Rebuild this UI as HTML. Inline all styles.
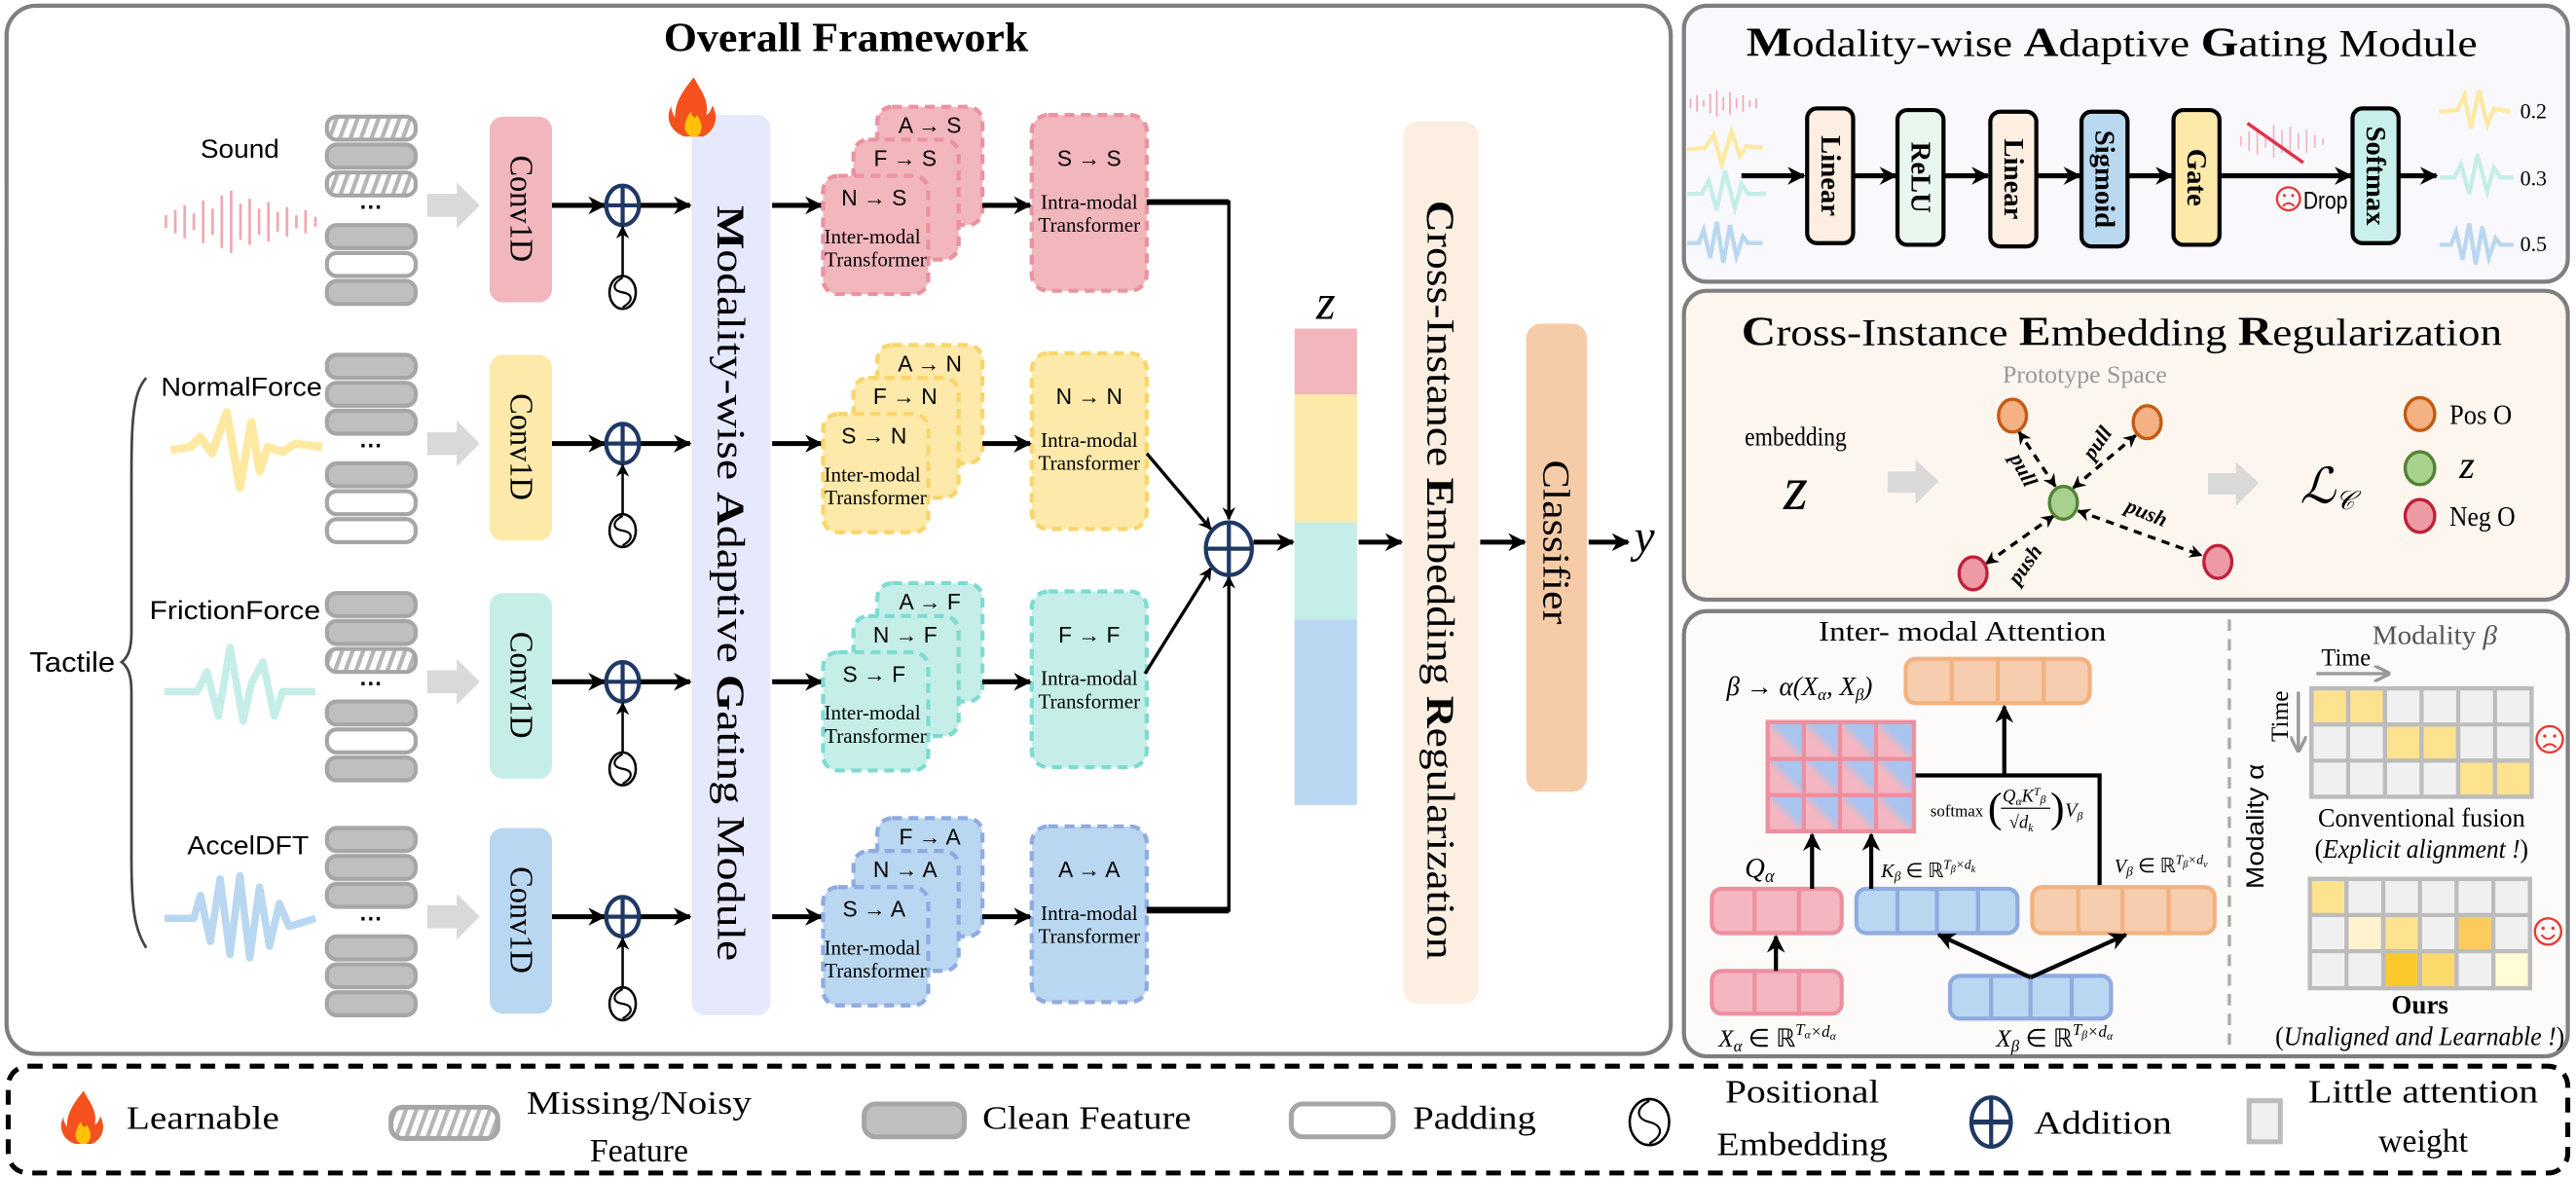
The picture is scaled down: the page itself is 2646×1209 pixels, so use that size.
<!DOCTYPE html>
<html><head><meta charset="utf-8"><style>
html,body{margin:0;padding:0;background:#fff}
svg{display:block}
.se{font-family:"Liberation Serif",serif}
.sa{font-family:"Liberation Sans",sans-serif}
</style></head><body>
<svg width="2646" height="1209" viewBox="0 0 1568 716.44" preserveAspectRatio="none" xmlns="http://www.w3.org/2000/svg">
<defs>
<marker id="a" viewBox="0 0 10 10" refX="9" refY="5" markerWidth="11" markerHeight="11" markerUnits="userSpaceOnUse" orient="auto-start-reverse"><path d="M0,0 L10,5 L0,10 L3,5z" fill="#000"/></marker>
<marker id="as" viewBox="0 0 10 10" refX="9" refY="5" markerWidth="8" markerHeight="8" markerUnits="userSpaceOnUse" orient="auto-start-reverse"><path d="M0,0 L10,5 L0,10 L3,5z" fill="#000"/></marker>
<marker id="ag" viewBox="0 0 10 10" refX="9" refY="5" markerWidth="10" markerHeight="10" markerUnits="userSpaceOnUse" orient="auto"><path d="M0,0 L10,5 L0,10" fill="none" stroke="#999" stroke-width="2"/></marker>
<pattern id="h" width="6" height="6" patternUnits="userSpaceOnUse" patternTransform="rotate(20)"><rect width="6" height="6" fill="#fff"/><rect width="2.5" height="6" fill="#b5b5b5"/></pattern>
<linearGradient id="g" x1="0" y1="1" x2="1" y2="0"><stop offset="0.4" stop-color="#f4b6c0"/><stop offset="0.6" stop-color="#a9c4ee"/></linearGradient>
<g id="pe"><ellipse cx="0" cy="0" rx="8" ry="10" fill="#fff" stroke="#000" stroke-width="1.5"/><path d="M0,-9 C-7,-5 -6,-1 0,0 C6,1 7,5 0,9" fill="none" stroke="#000" stroke-width="1.3"/></g>
<g id="plus"><ellipse cx="0" cy="0" rx="10" ry="12" fill="#fff" stroke="#1f3864" stroke-width="2.5"/><line x1="-10" y1="0" x2="10" y2="0" stroke="#1f3864" stroke-width="2.5"/><line x1="0" y1="-12" x2="0" y2="12" stroke="#1f3864" stroke-width="2.5"/></g>
<g id="fl"><path d="M14,0 C6,10 2,16 2,26 C0,22 -1,20 0,18 C-4,24 -3,34 8,38 L20,38 C28,34 30,26 26,18 C25,22 23,24 22,24 C24,14 18,8 14,0z" fill="#f4511e"/><path d="M12,38 C6,34 8,28 12,22 C13,26 16,27 16,24 C20,30 20,35 16,38z" fill="#ffc107"/></g>
</defs>

<!-- Main panel -->
<rect x="4" y="3.5" width="1013" height="638" rx="18" fill="#fff" stroke="#7f7f7f" stroke-width="2.5"/>
<text class="se" x="404" y="31" font-size="25" font-weight="bold" textLength="222" lengthAdjust="spacingAndGlyphs">Overall Framework</text>

<!-- MAG bar -->
<rect x="421" y="70" width="48" height="548" rx="8" fill="#e6e8fb"/>
<use href="#fl" transform="translate(409,47) scale(0.95)"/>
<text class="se" transform="translate(445,355) rotate(90)" text-anchor="middle" dominant-baseline="central" font-size="24" textLength="460" lengthAdjust="spacingAndGlyphs"><tspan font-weight="bold">M</tspan>odality-wise  <tspan font-weight="bold">A</tspan>daptive  <tspan font-weight="bold">G</tspan>ating  Module</text>

<!-- Tactile brace -->
<path d="M89,230 C80,240 80,260 80,300 L80,385 C80,395 78,400 74,403 C78,406 80,411 80,421 L80,520 C80,555 82,565 89,577" fill="none" stroke="#444" stroke-width="1.6"/>
<text class="sa" x="18" y="409" font-size="17" textLength="52" lengthAdjust="spacingAndGlyphs">Tactile</text>

<!-- ROW 1 Sound T=71 -->
<g>
<text class="sa" x="122" y="96" font-size="16" textLength="48" lengthAdjust="spacingAndGlyphs">Sound</text>
<g stroke="#f2a7b1" stroke-width="1.6">
<line x1="101" y1="131" x2="101" y2="139"/><line x1="106.7" y1="128" x2="106.7" y2="142"/><line x1="112.4" y1="125" x2="112.4" y2="145"/><line x1="118" y1="130" x2="118" y2="140"/><line x1="123.7" y1="122" x2="123.7" y2="148"/><line x1="129.4" y1="127" x2="129.4" y2="143"/><line x1="135" y1="119" x2="135" y2="151"/><line x1="140.7" y1="116" x2="140.7" y2="154"/><line x1="146.4" y1="124" x2="146.4" y2="146"/><line x1="152" y1="121" x2="152" y2="149"/><line x1="157.7" y1="127" x2="157.7" y2="143"/><line x1="163.4" y1="123" x2="163.4" y2="147"/><line x1="169" y1="129" x2="169" y2="141"/><line x1="174.7" y1="126" x2="174.7" y2="144"/><line x1="180.4" y1="131" x2="180.4" y2="139"/><line x1="186" y1="128" x2="186" y2="142"/><line x1="192" y1="132" x2="192" y2="138"/>
</g>
<g stroke="#a6a6a6" stroke-width="2.5">
<rect x="199" y="71" width="54" height="14" rx="6" fill="url(#h)"/>
<rect x="199" y="88" width="54" height="14" rx="6" fill="#bfbfbf"/>
<rect x="199" y="105" width="54" height="14" rx="6" fill="url(#h)"/>
<rect x="199" y="137" width="54" height="14" rx="6" fill="#bfbfbf"/>
<rect x="199" y="154" width="54" height="14" rx="6" fill="#fff"/>
<rect x="199" y="171" width="54" height="14" rx="6" fill="#bfbfbf"/>
</g>
<text class="sa" x="226" y="131" font-size="14" text-anchor="middle" font-weight="bold">···</text>
<polygon points="260,118 278,118 278,111 292,125 278,139 278,132 260,132" fill="#d9d9d9"/>
<rect x="298" y="71" width="38" height="113" rx="8" fill="#f2b6bd"/>
<text class="se" transform="translate(317,127) rotate(90)" text-anchor="middle" dominant-baseline="central" font-size="20" textLength="65" lengthAdjust="spacingAndGlyphs">Conv1D</text>
<line x1="336" y1="125" x2="368" y2="125" stroke="#000" stroke-width="3" marker-end="url(#a)"/>
<use href="#plus" x="379" y="125"/>
<line x1="390" y1="125" x2="420" y2="125" stroke="#000" stroke-width="3" marker-end="url(#a)"/>
<line x1="379" y1="168" x2="379" y2="138" stroke="#000" stroke-width="1.5" marker-end="url(#as)"/>
<use href="#pe" x="379" y="178"/>
<line x1="470" y1="125" x2="500" y2="125" stroke="#000" stroke-width="3" marker-end="url(#a)"/>
<g fill="#f2b6bd" stroke="#ea93a0" stroke-width="2.5" stroke-dasharray="6,4">
<rect x="534" y="65" width="64" height="72" rx="9"/>
<rect x="519.5" y="85" width="64" height="73" rx="9"/>
<rect x="501" y="107" width="64" height="72" rx="9"/>
<rect x="628" y="70" width="70" height="107" rx="10"/>
</g>
<g class="sa" font-size="13.5" text-anchor="middle"><text x="566" y="81">A → S</text><text x="551" y="101">F → S</text><text x="532" y="125">N → S</text><text x="663" y="101">S → S</text></g>
<g class="se" font-size="12.5" text-anchor="middle"><text x="531" y="148">Inter-modal</text><text x="533" y="162">Transformer</text><text x="663" y="127">Intra-modal</text><text x="663" y="141">Transformer</text></g>
<line x1="598" y1="125" x2="627" y2="125" stroke="#000" stroke-width="3" marker-end="url(#a)"/>
</g>

<!-- ROW 2 Normal T=216 -->
<g>
<text class="sa" x="98" y="241" font-size="16" textLength="98" lengthAdjust="spacingAndGlyphs">NormalForce</text>
<path d="M104,274 L116,272 L122,266 L129,276 L138,251 L146,297 L153,257 L158,287 L163,272 L172,275 L180,270 L196,272" fill="none" stroke="#fde9a0" stroke-width="5" stroke-linejoin="round"/>
<g stroke="#a6a6a6" stroke-width="2.5">
<rect x="199" y="216" width="54" height="14" rx="6" fill="#bfbfbf"/>
<rect x="199" y="233" width="54" height="14" rx="6" fill="#bfbfbf"/>
<rect x="199" y="250" width="54" height="14" rx="6" fill="#bfbfbf"/>
<rect x="199" y="282" width="54" height="14" rx="6" fill="#bfbfbf"/>
<rect x="199" y="299" width="54" height="14" rx="6" fill="#fff"/>
<rect x="199" y="316" width="54" height="14" rx="6" fill="#fff"/>
</g>
<text class="sa" x="226" y="276" font-size="14" text-anchor="middle" font-weight="bold">···</text>
<polygon points="260,263 278,263 278,256 292,270 278,284 278,277 260,277" fill="#d9d9d9"/>
<rect x="298" y="216" width="38" height="113" rx="8" fill="#fde9a9"/>
<text class="se" transform="translate(317,272) rotate(90)" text-anchor="middle" dominant-baseline="central" font-size="20" textLength="65" lengthAdjust="spacingAndGlyphs">Conv1D</text>
<line x1="336" y1="270" x2="368" y2="270" stroke="#000" stroke-width="3" marker-end="url(#a)"/>
<use href="#plus" x="379" y="270"/>
<line x1="390" y1="270" x2="420" y2="270" stroke="#000" stroke-width="3" marker-end="url(#a)"/>
<line x1="379" y1="313" x2="379" y2="283" stroke="#000" stroke-width="1.5" marker-end="url(#as)"/>
<use href="#pe" x="379" y="323"/>
<line x1="470" y1="270" x2="500" y2="270" stroke="#000" stroke-width="3" marker-end="url(#a)"/>
<g fill="#fde9a9" stroke="#f9d56a" stroke-width="2.5" stroke-dasharray="6,4">
<rect x="534" y="210" width="64" height="72" rx="9"/>
<rect x="519.5" y="230" width="64" height="73" rx="9"/>
<rect x="501" y="252" width="64" height="72" rx="9"/>
<rect x="628" y="215" width="70" height="107" rx="10"/>
</g>
<g class="sa" font-size="13.5" text-anchor="middle"><text x="566" y="226">A → N</text><text x="551" y="246">F → N</text><text x="532" y="270">S → N</text><text x="663" y="246">N → N</text></g>
<g class="se" font-size="12.5" text-anchor="middle"><text x="531" y="293">Inter-modal</text><text x="533" y="307">Transformer</text><text x="663" y="272">Intra-modal</text><text x="663" y="286">Transformer</text></g>
<line x1="598" y1="270" x2="627" y2="270" stroke="#000" stroke-width="3" marker-end="url(#a)"/>
</g>

<!-- ROW 3 Friction T=361 -->
<g>
<text class="sa" x="91" y="377" font-size="16" textLength="104" lengthAdjust="spacingAndGlyphs">FrictionForce</text>
<path d="M100,421 L120,421 L126,409 L133,436 L140,394 L148,439 L153,416 L160,403 L167,436 L172,421 L192,421" fill="none" stroke="#c5eee9" stroke-width="4.5" stroke-linejoin="round"/>
<g stroke="#a6a6a6" stroke-width="2.5">
<rect x="199" y="361" width="54" height="14" rx="6" fill="#bfbfbf"/>
<rect x="199" y="378" width="54" height="14" rx="6" fill="#bfbfbf"/>
<rect x="199" y="395" width="54" height="14" rx="6" fill="url(#h)"/>
<rect x="199" y="427" width="54" height="14" rx="6" fill="#bfbfbf"/>
<rect x="199" y="444" width="54" height="14" rx="6" fill="#fff"/>
<rect x="199" y="461" width="54" height="14" rx="6" fill="#bfbfbf"/>
</g>
<text class="sa" x="226" y="421" font-size="14" text-anchor="middle" font-weight="bold">···</text>
<polygon points="260,408 278,408 278,401 292,415 278,429 278,422 260,422" fill="#d9d9d9"/>
<rect x="298" y="361" width="38" height="113" rx="8" fill="#c5eee9"/>
<text class="se" transform="translate(317,417) rotate(90)" text-anchor="middle" dominant-baseline="central" font-size="20" textLength="65" lengthAdjust="spacingAndGlyphs">Conv1D</text>
<line x1="336" y1="415" x2="368" y2="415" stroke="#000" stroke-width="3" marker-end="url(#a)"/>
<use href="#plus" x="379" y="415"/>
<line x1="390" y1="415" x2="420" y2="415" stroke="#000" stroke-width="3" marker-end="url(#a)"/>
<line x1="379" y1="458" x2="379" y2="428" stroke="#000" stroke-width="1.5" marker-end="url(#as)"/>
<use href="#pe" x="379" y="468"/>
<line x1="470" y1="415" x2="500" y2="415" stroke="#000" stroke-width="3" marker-end="url(#a)"/>
<g fill="#c5eee9" stroke="#7ddbd0" stroke-width="2.5" stroke-dasharray="6,4">
<rect x="534" y="355" width="64" height="72" rx="9"/>
<rect x="519.5" y="375" width="64" height="73" rx="9"/>
<rect x="501" y="397" width="64" height="72" rx="9"/>
<rect x="628" y="360" width="70" height="107" rx="10"/>
</g>
<g class="sa" font-size="13.5" text-anchor="middle"><text x="566" y="371">A → F</text><text x="551" y="391">N → F</text><text x="532" y="415">S → F</text><text x="663" y="391">F → F</text></g>
<g class="se" font-size="12.5" text-anchor="middle"><text x="531" y="438">Inter-modal</text><text x="533" y="452">Transformer</text><text x="663" y="417">Intra-modal</text><text x="663" y="431">Transformer</text></g>
<line x1="598" y1="415" x2="627" y2="415" stroke="#000" stroke-width="3" marker-end="url(#a)"/>
</g>

<!-- ROW 4 Accel T=504 -->
<g>
<text class="sa" x="114" y="520" font-size="16" textLength="74" lengthAdjust="spacingAndGlyphs">AccelDFT</text>
<path d="M100,559 L118,559 L122,545 L128,573 L134,535 L140,581 L146,533 L152,583 L158,540 L164,576 L170,550 L176,564 L192,559" fill="none" stroke="#b9d7f0" stroke-width="4.5" stroke-linejoin="round"/>
<g stroke="#a6a6a6" stroke-width="2.5" fill="#bfbfbf">
<rect x="199" y="504" width="54" height="14" rx="6"/>
<rect x="199" y="521" width="54" height="14" rx="6"/>
<rect x="199" y="538" width="54" height="14" rx="6"/>
<rect x="199" y="570" width="54" height="14" rx="6"/>
<rect x="199" y="587" width="54" height="14" rx="6"/>
<rect x="199" y="604" width="54" height="14" rx="6"/>
</g>
<text class="sa" x="226" y="564" font-size="14" text-anchor="middle" font-weight="bold">···</text>
<polygon points="260,551 278,551 278,544 292,558 278,572 278,565 260,565" fill="#d9d9d9"/>
<rect x="298" y="504" width="38" height="113" rx="8" fill="#b9d7f0"/>
<text class="se" transform="translate(317,560) rotate(90)" text-anchor="middle" dominant-baseline="central" font-size="20" textLength="65" lengthAdjust="spacingAndGlyphs">Conv1D</text>
<line x1="336" y1="558" x2="368" y2="558" stroke="#000" stroke-width="3" marker-end="url(#a)"/>
<use href="#plus" x="379" y="558"/>
<line x1="390" y1="558" x2="420" y2="558" stroke="#000" stroke-width="3" marker-end="url(#a)"/>
<line x1="379" y1="601" x2="379" y2="571" stroke="#000" stroke-width="1.5" marker-end="url(#as)"/>
<use href="#pe" x="379" y="611"/>
<line x1="470" y1="558" x2="500" y2="558" stroke="#000" stroke-width="3" marker-end="url(#a)"/>
<g fill="#b9d7f0" stroke="#8fabe0" stroke-width="2.5" stroke-dasharray="6,4">
<rect x="534" y="498" width="64" height="72" rx="9"/>
<rect x="519.5" y="518" width="64" height="73" rx="9"/>
<rect x="501" y="540" width="64" height="72" rx="9"/>
<rect x="628" y="503" width="70" height="107" rx="10"/>
</g>
<g class="sa" font-size="13.5" text-anchor="middle"><text x="566" y="514">F → A</text><text x="551" y="534">N → A</text><text x="532" y="558">S → A</text><text x="663" y="534">A → A</text></g>
<g class="se" font-size="12.5" text-anchor="middle"><text x="531" y="581">Inter-modal</text><text x="533" y="595">Transformer</text><text x="663" y="560">Intra-modal</text><text x="663" y="574">Transformer</text></g>
<line x1="598" y1="558" x2="627" y2="558" stroke="#000" stroke-width="3" marker-end="url(#a)"/>
</g>

<!-- Convergence -->
<polyline points="698,123 748,123 748,316" fill="none" stroke="#000" stroke-width="2" marker-end="url(#as)"/>
<polyline points="698,554 748,554 748,351" fill="none" stroke="#000" stroke-width="2" marker-end="url(#as)"/>
<polyline points="698,554 748,554" fill="none" stroke="#000" stroke-width="4"/>
<polyline points="698,123 748,123" fill="none" stroke="#000" stroke-width="3.5"/>
<line x1="698" y1="276" x2="737" y2="322" stroke="#000" stroke-width="2" marker-end="url(#as)"/>
<line x1="697" y1="410" x2="737" y2="346" stroke="#000" stroke-width="2" marker-end="url(#as)"/>
<ellipse cx="748" cy="334" rx="14" ry="16" fill="#fff" stroke="#1f3864" stroke-width="2.5"/>
<line x1="734" y1="334" x2="762" y2="334" stroke="#1f3864" stroke-width="2.5"/>
<line x1="748" y1="318" x2="748" y2="350" stroke="#1f3864" stroke-width="2.5"/>
<line x1="763" y1="330" x2="787" y2="330" stroke="#000" stroke-width="3" marker-end="url(#a)"/>

<!-- z bar -->
<text class="se" x="807" y="194" font-size="30" font-style="italic" text-anchor="middle">z</text>
<rect x="788" y="200" width="38" height="40" fill="#f2b6bd"/>
<rect x="788" y="240" width="38" height="78" fill="#fde9a9"/>
<rect x="788" y="318" width="38" height="59" fill="#c5eee9"/>
<rect x="788" y="377" width="38" height="113" fill="#b9d7f0"/>
<line x1="827" y1="330" x2="853" y2="330" stroke="#000" stroke-width="3" marker-end="url(#a)"/>
<rect x="854" y="74" width="46" height="537" rx="9" fill="#fcefe1"/>
<text class="se" transform="translate(877,353) rotate(90)" text-anchor="middle" dominant-baseline="central" font-size="24" textLength="462" lengthAdjust="spacingAndGlyphs"><tspan font-weight="bold">C</tspan>ross-Instance  <tspan font-weight="bold">E</tspan>mbedding  <tspan font-weight="bold">R</tspan>egularization</text>
<line x1="901" y1="330" x2="928" y2="330" stroke="#000" stroke-width="3" marker-end="url(#a)"/>
<rect x="929" y="197" width="37" height="285" rx="9" fill="#f6cba8"/>
<text class="se" transform="translate(947,330) rotate(90)" text-anchor="middle" dominant-baseline="central" font-size="23" textLength="100" lengthAdjust="spacingAndGlyphs">Classifier</text>
<line x1="967" y1="330" x2="991" y2="330" stroke="#000" stroke-width="3" marker-end="url(#a)"/>
<text class="se" x="1001" y="336" font-size="28" font-style="italic" text-anchor="middle">y</text>

<!-- MAG panel -->
<rect x="1025" y="3.5" width="538" height="168" rx="14" fill="#f8f8fd" stroke="#7f7f7f" stroke-width="2.5"/>
<text class="se" x="1063" y="34" font-size="23" textLength="445" lengthAdjust="spacingAndGlyphs"><tspan font-weight="bold" font-size="25">M</tspan>odality-wise  <tspan font-weight="bold" font-size="25">A</tspan>daptive  <tspan font-weight="bold" font-size="25">G</tspan>ating  Module</text>
<g stroke="#f2a7b1" stroke-width="1"><line x1="1029" y1="60" x2="1029" y2="66"/><line x1="1033" y1="58" x2="1033" y2="68"/><line x1="1037" y1="61" x2="1037" y2="65"/><line x1="1041" y1="57" x2="1041" y2="69"/><line x1="1045" y1="55" x2="1045" y2="71"/><line x1="1049" y1="59" x2="1049" y2="67"/><line x1="1053" y1="56" x2="1053" y2="70"/><line x1="1057" y1="60" x2="1057" y2="66"/><line x1="1061" y1="58" x2="1061" y2="68"/><line x1="1065" y1="61" x2="1065" y2="65"/><line x1="1069" y1="60" x2="1069" y2="66"/></g>
<path d="M1027,91 L1038,90 L1043,82 L1048,100 L1054,80 L1059,95 L1063,89 L1073,90" fill="none" stroke="#fde9a0" stroke-width="2.5"/>
<path d="M1027,118 L1036,118 L1040,110 L1045,128 L1050,104 L1056,127 L1060,112 L1064,118 L1075,118" fill="none" stroke="#c5eee9" stroke-width="2.5"/>
<path d="M1027,148 L1034,148 L1037,140 L1041,157 L1045,135 L1049,160 L1053,137 L1057,156 L1061,144 L1064,148 L1073,148" fill="none" stroke="#b9d7f0" stroke-width="2.5"/>
<line x1="1060" y1="107" x2="1098" y2="107" stroke="#000" stroke-width="3" marker-end="url(#a)"/>
<g stroke="#000" stroke-width="2.5">
<rect x="1100" y="66" width="28" height="82" rx="6" fill="#fcefe1"/>
<rect x="1155" y="67" width="28" height="82" rx="6" fill="#eaf7ee"/>
<rect x="1211.5" y="68" width="28" height="82" rx="6" fill="#fcefe1"/>
<rect x="1267" y="68" width="28" height="82" rx="6" fill="#b9d9f0"/>
<rect x="1323" y="67" width="28" height="82" rx="6" fill="#fde9a9"/>
<rect x="1432" y="66" width="28" height="82" rx="6" fill="#c9f0ea"/>
</g>
<g class="se" font-size="17" font-weight="bold">
<text transform="translate(1114,107) rotate(90)" text-anchor="middle" dominant-baseline="central">Linear</text>
<text transform="translate(1169,108) rotate(90)" text-anchor="middle" dominant-baseline="central">ReLU</text>
<text transform="translate(1225.5,109) rotate(90)" text-anchor="middle" dominant-baseline="central">Linear</text>
<text transform="translate(1281,109) rotate(90)" text-anchor="middle" dominant-baseline="central">Sigmoid</text>
<text transform="translate(1337,108) rotate(90)" text-anchor="middle" dominant-baseline="central">Gate</text>
<text transform="translate(1446,107) rotate(90)" text-anchor="middle" dominant-baseline="central">Softmax</text>
</g>
<g stroke="#000" stroke-width="3">
<line x1="1128" y1="107" x2="1154" y2="107" marker-end="url(#a)"/>
<line x1="1183" y1="107" x2="1210" y2="107" marker-end="url(#a)"/>
<line x1="1239.5" y1="107" x2="1266" y2="107" marker-end="url(#a)"/>
<line x1="1295" y1="107" x2="1322" y2="107" marker-end="url(#a)"/>
<line x1="1351" y1="107" x2="1431" y2="107" marker-end="url(#a)"/>
<line x1="1460" y1="107" x2="1483" y2="107" marker-end="url(#a)"/>
</g>
<g stroke="#f4b6c0" stroke-width="1"><line x1="1364" y1="83" x2="1364" y2="89"/><line x1="1369" y1="80" x2="1369" y2="92"/><line x1="1374" y1="78" x2="1374" y2="94"/><line x1="1379" y1="82" x2="1379" y2="90"/><line x1="1384" y1="76" x2="1384" y2="96"/><line x1="1389" y1="79" x2="1389" y2="93"/><line x1="1394" y1="77" x2="1394" y2="95"/><line x1="1399" y1="81" x2="1399" y2="91"/><line x1="1404" y1="79" x2="1404" y2="93"/><line x1="1409" y1="82" x2="1409" y2="90"/><line x1="1414" y1="84" x2="1414" y2="88"/></g>
<line x1="1368" y1="75" x2="1402" y2="99" stroke="#e0314b" stroke-width="2"/>
<circle cx="1393" cy="121" r="7" fill="none" stroke="#e53935" stroke-width="1.4"/>
<circle cx="1390.5" cy="119" r="0.9" fill="#e53935"/><circle cx="1395.5" cy="119" r="0.9" fill="#e53935"/>
<path d="M1389.5,125.5 Q1393,122 1396.5,125.5" fill="none" stroke="#e53935" stroke-width="1.2"/>
<text class="sa" x="1402" y="127" font-size="15" textLength="27" lengthAdjust="spacingAndGlyphs">Drop</text>
<path d="M1485,68 L1496,67 L1500,58 L1504,78 L1509,55 L1514,76 L1518,66 L1528,68" fill="none" stroke="#fde9a0" stroke-width="2.5"/>
<path d="M1485,108 L1494,108 L1498,100 L1503,118 L1508,94 L1514,117 L1518,102 L1522,108 L1530,108" fill="none" stroke="#c5eee9" stroke-width="2.5"/>
<path d="M1485,149 L1492,149 L1495,141 L1499,158 L1503,136 L1507,161 L1511,138 L1515,157 L1519,145 L1522,149 L1530,149" fill="none" stroke="#b9d7f0" stroke-width="2.5"/>
<g class="se" font-size="13"><text x="1534" y="72">0.2</text><text x="1534" y="113">0.3</text><text x="1534" y="153">0.5</text></g>

<!-- CIER panel -->
<rect x="1025" y="177" width="538" height="188" rx="14" fill="#fdf6ef" stroke="#7f7f7f" stroke-width="2.5"/>
<text class="se" x="1060" y="210" font-size="23" textLength="463" lengthAdjust="spacingAndGlyphs"><tspan font-weight="bold" font-size="25">C</tspan>ross-Instance  <tspan font-weight="bold" font-size="25">E</tspan>mbedding  <tspan font-weight="bold" font-size="25">R</tspan>egularization</text>
<text class="se" x="1269" y="233" font-size="15" fill="#999" text-anchor="middle" textLength="100" lengthAdjust="spacingAndGlyphs">Prototype Space</text>
<text class="se" x="1093" y="271" font-size="16" text-anchor="middle" textLength="62" lengthAdjust="spacingAndGlyphs">embedding</text>
<text class="se" x="1093" y="310" font-size="38" font-style="italic" text-anchor="middle">z</text>
<polygon points="1149,287 1166,287 1166,280 1180,293 1166,307 1166,300 1149,300" fill="#d9d9d9"/>
<polygon points="1344,288 1361,288 1361,281 1375,294 1361,308 1361,301 1344,301" fill="#d9d9d9"/>
<text class="se" x="1400" y="306" font-size="30" font-style="italic">ℒ<tspan font-size="16" dy="4">𝒞</tspan></text>
<g stroke="#000" stroke-width="2" stroke-dasharray="5,4" marker-start="url(#as)" marker-end="url(#as)">
<line x1="1251" y1="296" x2="1229" y2="263"/>
<line x1="1262" y1="297" x2="1300" y2="265"/>
<line x1="1250" y1="314" x2="1209" y2="343"/>
<line x1="1265" y1="311" x2="1340" y2="338"/>
</g>
<g class="se" font-size="13" font-weight="bold" font-style="italic">
<text transform="translate(1228,288) rotate(62)" text-anchor="middle">pull</text>
<text transform="translate(1280,272) rotate(-55)" text-anchor="middle">pull</text>
<text transform="translate(1305,316) rotate(22)" text-anchor="middle">push</text>
<text transform="translate(1236,346) rotate(-55)" text-anchor="middle">push</text>
</g>
<ellipse cx="1225" cy="253" rx="8.5" ry="10" fill="#f4b183" stroke="#c55a11" stroke-width="2"/>
<ellipse cx="1307" cy="257" rx="8.5" ry="10" fill="#f4b183" stroke="#c55a11" stroke-width="2"/>
<ellipse cx="1256" cy="306" rx="8.5" ry="10" fill="#a9d18e" stroke="#548235" stroke-width="2"/>
<ellipse cx="1201" cy="349" rx="8.5" ry="10" fill="#ee9aa5" stroke="#c0203a" stroke-width="2"/>
<ellipse cx="1350" cy="342" rx="8.5" ry="10" fill="#ee9aa5" stroke="#c0203a" stroke-width="2"/>
<ellipse cx="1473" cy="252" rx="9" ry="10" fill="#f4b183" stroke="#c55a11" stroke-width="2"/>
<ellipse cx="1473" cy="285" rx="9" ry="10" fill="#a9d18e" stroke="#548235" stroke-width="2"/>
<ellipse cx="1473" cy="314" rx="9" ry="10" fill="#ee9aa5" stroke="#c0203a" stroke-width="2"/>
<g class="se" font-size="17"><text x="1491" y="258" textLength="38" lengthAdjust="spacingAndGlyphs">Pos O</text><text x="1497" y="291" font-size="24" font-style="italic">z</text><text x="1491" y="320" textLength="40" lengthAdjust="spacingAndGlyphs">Neg O</text></g>

<!-- Attention panel -->
<rect x="1025" y="372" width="538" height="271" rx="14" fill="#fcfbf9" stroke="#7f7f7f" stroke-width="2.5"/>
<line x1="1357" y1="377" x2="1357" y2="640" stroke="#aaa" stroke-width="2" stroke-dasharray="7,5"/>
<text class="se" x="1107" y="390" font-size="17" textLength="175" lengthAdjust="spacingAndGlyphs">Inter- modal Attention</text>
<g fill="#f7cdb0" stroke="#f2b27f" stroke-width="2.5">
<rect x="1160" y="401" width="112" height="27" rx="6"/>
<line x1="1188" y1="401" x2="1188" y2="428"/><line x1="1216" y1="401" x2="1216" y2="428"/><line x1="1244" y1="401" x2="1244" y2="428"/>
</g>
<text class="se" x="1051" y="423" font-size="16" font-style="italic">β → α(X<tspan font-size="10" dy="3">α</tspan><tspan dy="-3">, X</tspan><tspan font-size="10" dy="3">β</tspan><tspan dy="-3">)</tspan></text>
<g stroke="#ee8f9e" stroke-width="2.5">
<rect x="1076" y="439.5" width="89" height="66.5" fill="#f4b6c0"/>
<rect x="1077" y="440.5" width="21" height="21" fill="url(#g)" stroke="none"/><rect x="1099" y="440.5" width="21" height="21" fill="url(#g)" stroke="none"/><rect x="1121" y="440.5" width="21" height="21" fill="url(#g)" stroke="none"/><rect x="1143" y="440.5" width="21" height="21" fill="url(#g)" stroke="none"/>
<rect x="1077" y="462.5" width="21" height="21" fill="url(#g)" stroke="none"/><rect x="1099" y="462.5" width="21" height="21" fill="url(#g)" stroke="none"/><rect x="1121" y="462.5" width="21" height="21" fill="url(#g)" stroke="none"/><rect x="1143" y="462.5" width="21" height="21" fill="url(#g)" stroke="none"/>
<rect x="1077" y="484.5" width="21" height="21" fill="url(#g)" stroke="none"/><rect x="1099" y="484.5" width="21" height="21" fill="url(#g)" stroke="none"/><rect x="1121" y="484.5" width="21" height="21" fill="url(#g)" stroke="none"/><rect x="1143" y="484.5" width="21" height="21" fill="url(#g)" stroke="none"/>
<line x1="1098" y1="439.5" x2="1098" y2="506"/><line x1="1120" y1="439.5" x2="1120" y2="506"/><line x1="1142" y1="439.5" x2="1142" y2="506"/>
<line x1="1076" y1="462" x2="1165" y2="462"/><line x1="1076" y1="484" x2="1165" y2="484"/>
<rect x="1076" y="439.5" width="89" height="66.5" fill="none"/>
</g>
<polyline points="1166,472 1278,472 1278,540" fill="none" stroke="#000" stroke-width="2.5"/>
<line x1="1220" y1="472" x2="1220" y2="430" stroke="#000" stroke-width="2.5" marker-end="url(#a)"/>
<text class="se" x="1175" y="497" font-size="10">softmax</text>
<text class="se" x="1210" y="500" font-size="26">(</text>
<text class="se" x="1219" y="488" font-size="11" font-style="italic">Q<tspan font-size="7" dy="2">α</tspan><tspan dy="-2">K</tspan><tspan font-size="7" dy="-4">T</tspan><tspan font-size="7" dy="5">β</tspan></text>
<line x1="1218" y1="492" x2="1248" y2="492" stroke="#000" stroke-width="0.8"/>
<text class="se" x="1223" y="504" font-size="11" font-style="italic">√d<tspan font-size="7" dy="2">k</tspan></text>
<text class="se" x="1248" y="500" font-size="26">)</text>
<text class="se" x="1257" y="497" font-size="12" font-style="italic">V<tspan font-size="7" dy="2">β</tspan></text>
<g stroke-width="2.5">
<rect x="1042" y="541" width="79" height="27" rx="6" fill="#f4b6c0" stroke="#ee8f9e"/>
<line x1="1068" y1="541" x2="1068" y2="568" stroke="#ee8f9e"/><line x1="1095" y1="541" x2="1095" y2="568" stroke="#ee8f9e"/>
<rect x="1130" y="541" width="98" height="27" rx="6" fill="#b9d7f0" stroke="#8fabe0"/>
<line x1="1155" y1="541" x2="1155" y2="568" stroke="#8fabe0"/><line x1="1179" y1="541" x2="1179" y2="568" stroke="#8fabe0"/><line x1="1204" y1="541" x2="1204" y2="568" stroke="#8fabe0"/>
<rect x="1237" y="540" width="111" height="28" rx="6" fill="#f7cdb0" stroke="#f2b27f"/>
<line x1="1265" y1="540" x2="1265" y2="568" stroke="#f2b27f"/><line x1="1292" y1="540" x2="1292" y2="568" stroke="#f2b27f"/><line x1="1320" y1="540" x2="1320" y2="568" stroke="#f2b27f"/>
<rect x="1042" y="591" width="79" height="26" rx="6" fill="#f4b6c0" stroke="#ee8f9e"/>
<line x1="1068" y1="591" x2="1068" y2="617" stroke="#ee8f9e"/><line x1="1095" y1="591" x2="1095" y2="617" stroke="#ee8f9e"/>
<rect x="1187" y="594" width="98" height="26" rx="6" fill="#b9d7f0" stroke="#8fabe0"/>
<line x1="1212" y1="594" x2="1212" y2="620" stroke="#8fabe0"/><line x1="1236" y1="594" x2="1236" y2="620" stroke="#8fabe0"/><line x1="1261" y1="594" x2="1261" y2="620" stroke="#8fabe0"/>
</g>
<g stroke="#000" stroke-width="2.5">
<line x1="1103" y1="541" x2="1103" y2="508" marker-end="url(#a)"/>
<line x1="1139" y1="541" x2="1139" y2="508" marker-end="url(#a)"/>
<line x1="1081" y1="591" x2="1081" y2="570" marker-end="url(#a)"/>
<line x1="1236" y1="595" x2="1180" y2="569" marker-end="url(#a)"/>
<line x1="1236" y1="595" x2="1294" y2="569" marker-end="url(#a)"/>
</g>
<text class="se" x="1062" y="534" font-size="17" font-style="italic">Q<tspan font-size="11" dy="3">α</tspan></text>
<text class="se" x="1145" y="534" font-size="12" font-style="italic">K<tspan font-size="8" dy="2">β</tspan><tspan dy="-2" font-style="normal"> ∈ ℝ</tspan><tspan font-size="8" dy="-5">T</tspan><tspan font-size="6" dy="2">β</tspan><tspan font-size="8" dy="-2">×d</tspan><tspan font-size="6" dy="2">k</tspan></text>
<text class="se" x="1287" y="531" font-size="12" font-style="italic">V<tspan font-size="8" dy="2">β</tspan><tspan dy="-2" font-style="normal"> ∈ ℝ</tspan><tspan font-size="8" dy="-5">T</tspan><tspan font-size="6" dy="2">β</tspan><tspan font-size="8" dy="-2">×d</tspan><tspan font-size="6" dy="2">v</tspan></text>
<text class="se" x="1046" y="637" font-size="15" font-style="italic">X<tspan font-size="10" dy="3">α</tspan><tspan dy="-3" font-style="normal"> ∈ ℝ</tspan><tspan font-size="10" dy="-7">T</tspan><tspan font-size="7" dy="2">α</tspan><tspan font-size="10" dy="-1">×d</tspan><tspan font-size="7" dy="2">α</tspan></text>
<text class="se" x="1215" y="637" font-size="15" font-style="italic">X<tspan font-size="10" dy="3">β</tspan><tspan dy="-3" font-style="normal"> ∈ ℝ</tspan><tspan font-size="10" dy="-7">T</tspan><tspan font-size="7" dy="2">β</tspan><tspan font-size="10" dy="-1">×d</tspan><tspan font-size="7" dy="2">α</tspan></text>

<!-- right half of attention panel -->
<text class="se" x="1444" y="392" font-size="16" fill="#555" textLength="76" lengthAdjust="spacingAndGlyphs">Modality <tspan font-style="italic">β</tspan></text>
<text class="se" x="1413" y="405" font-size="15" textLength="30" lengthAdjust="spacingAndGlyphs">Time</text>
<line x1="1410" y1="410" x2="1454" y2="410" stroke="#999" stroke-width="2" marker-end="url(#ag)"/>
<text class="se" transform="translate(1388,436) rotate(-90)" text-anchor="middle" dominant-baseline="central" font-size="15">Time</text>
<line x1="1399" y1="421" x2="1399" y2="457" stroke="#999" stroke-width="2" marker-end="url(#ag)"/>
<text class="sa" transform="translate(1373,503) rotate(-90)" text-anchor="middle" dominant-baseline="central" font-size="15" textLength="76" lengthAdjust="spacingAndGlyphs">Modality α</text>
<g stroke="#bcbcbc" stroke-width="2.5">
<rect x="1407" y="419" width="134" height="66" fill="#f0f0f0"/>
<rect x="1407" y="419" width="22.3" height="22" fill="#fde28f"/><rect x="1429.3" y="419" width="22.3" height="22" fill="#fde28f"/>
<rect x="1451.7" y="441" width="22.3" height="22" fill="#fde28f"/><rect x="1474" y="441" width="22.3" height="22" fill="#fde28f"/>
<rect x="1496.3" y="463" width="22.3" height="22" fill="#fde28f"/><rect x="1518.7" y="463" width="22.3" height="22" fill="#fde28f"/>
<line x1="1429.3" y1="419" x2="1429.3" y2="485"/><line x1="1451.7" y1="419" x2="1451.7" y2="485"/><line x1="1474" y1="419" x2="1474" y2="485"/><line x1="1496.3" y1="419" x2="1496.3" y2="485"/><line x1="1518.7" y1="419" x2="1518.7" y2="485"/>
<line x1="1407" y1="441" x2="1541" y2="441"/><line x1="1407" y1="463" x2="1541" y2="463"/>
<rect x="1407" y="419" width="134" height="66" fill="none"/>
</g>
<circle cx="1552" cy="450" r="8" fill="none" stroke="#e53935" stroke-width="1.4"/><circle cx="1549" cy="448" r="1" fill="#e53935"/><circle cx="1555" cy="448" r="1" fill="#e53935"/><path d="M1548,455 Q1552,451 1556,455" fill="none" stroke="#e53935" stroke-width="1.2"/>
<text class="se" x="1474" y="503" font-size="16" text-anchor="middle" textLength="126" lengthAdjust="spacingAndGlyphs">Conventional fusion</text>
<text class="se" x="1474" y="522" font-size="16" text-anchor="middle" textLength="130" lengthAdjust="spacingAndGlyphs">(<tspan font-style="italic">Explicit alignment !</tspan>)</text>
<g stroke="#bcbcbc" stroke-width="2.5">
<rect x="1406" y="535" width="134" height="66.5" fill="#f0f0f0"/>
<rect x="1406" y="535" width="22.3" height="22" fill="#fde28f"/>
<rect x="1428.3" y="557" width="22.3" height="22" fill="#fff3cf"/><rect x="1450.7" y="557" width="22.3" height="22" fill="#fde28f"/><rect x="1495.3" y="557" width="22.3" height="22" fill="#fdca5e"/>
<rect x="1450.7" y="579" width="22.3" height="22.5" fill="#fbc92c"/><rect x="1473" y="579" width="22.3" height="22.5" fill="#fdda6c"/><rect x="1517.7" y="579" width="22.3" height="22.5" fill="#fffcd6"/>
<line x1="1428.3" y1="535" x2="1428.3" y2="601.5"/><line x1="1450.7" y1="535" x2="1450.7" y2="601.5"/><line x1="1473" y1="535" x2="1473" y2="601.5"/><line x1="1495.3" y1="535" x2="1495.3" y2="601.5"/><line x1="1517.7" y1="535" x2="1517.7" y2="601.5"/>
<line x1="1406" y1="557" x2="1540" y2="557"/><line x1="1406" y1="579" x2="1540" y2="579"/>
<rect x="1406" y="535" width="134" height="66.5" fill="none"/>
</g>
<circle cx="1551" cy="567" r="8" fill="none" stroke="#e53935" stroke-width="1.4"/><circle cx="1548" cy="565" r="1" fill="#e53935"/><circle cx="1554" cy="565" r="1" fill="#e53935"/><path d="M1547,569 Q1551,574 1555,569" fill="none" stroke="#e53935" stroke-width="1.2"/>
<text class="se" x="1473" y="617" font-size="16" font-weight="bold" text-anchor="middle">Ours</text>
<text class="se" x="1473" y="636" font-size="16" text-anchor="middle" textLength="176" lengthAdjust="spacingAndGlyphs">(<tspan font-style="italic">Unaligned and Learnable !</tspan>)</text>

<!-- Legend -->
<rect x="5" y="649" width="1558" height="65" rx="12" fill="#fff" stroke="#000" stroke-width="3" stroke-dasharray="9,6"/>
<use href="#fl" transform="translate(39,664) scale(0.85)"/>
<g class="se" font-size="20">
<text x="77" y="687" textLength="93" lengthAdjust="spacingAndGlyphs">Learnable</text>
<text x="389" y="678" text-anchor="middle" textLength="137" lengthAdjust="spacingAndGlyphs">Missing/Noisy</text>
<text x="389" y="707" text-anchor="middle">Feature</text>
<text x="598" y="687" textLength="127" lengthAdjust="spacingAndGlyphs">Clean Feature</text>
<text x="860" y="687" textLength="75" lengthAdjust="spacingAndGlyphs">Padding</text>
<text x="1097" y="671" text-anchor="middle" textLength="94" lengthAdjust="spacingAndGlyphs">Positional</text>
<text x="1097" y="703" text-anchor="middle" textLength="104" lengthAdjust="spacingAndGlyphs">Embedding</text>
<text x="1238" y="690" textLength="84" lengthAdjust="spacingAndGlyphs">Addition</text>
<text x="1475" y="671" text-anchor="middle" textLength="140" lengthAdjust="spacingAndGlyphs">Little attention</text>
<text x="1475" y="701" text-anchor="middle">weight</text>
</g>
<g stroke="#a6a6a6" stroke-width="3">
<rect x="238" y="674" width="65" height="19" rx="7" fill="url(#h)"/>
<rect x="526" y="672" width="61" height="20" rx="7" fill="#bfbfbf"/>
<rect x="786" y="672" width="62" height="20" rx="7" fill="#fff"/>
</g>
<ellipse cx="1004" cy="683" rx="12" ry="14" fill="#fff" stroke="#000" stroke-width="1.5"/>
<path d="M1004,670 C995,675 996,681 1004,683 C1012,685 1013,691 1004,696" fill="none" stroke="#000" stroke-width="1.3"/>
<ellipse cx="1212" cy="683" rx="12" ry="15" fill="#fff" stroke="#1f3864" stroke-width="2.5"/>
<line x1="1200" y1="683" x2="1224" y2="683" stroke="#1f3864" stroke-width="3"/>
<line x1="1212" y1="668" x2="1212" y2="698" stroke="#1f3864" stroke-width="2.5"/>
<rect x="1369" y="670" width="19" height="25" fill="#f0f0f0" stroke="#bcbcbc" stroke-width="3"/>
</svg>
</body></html>
